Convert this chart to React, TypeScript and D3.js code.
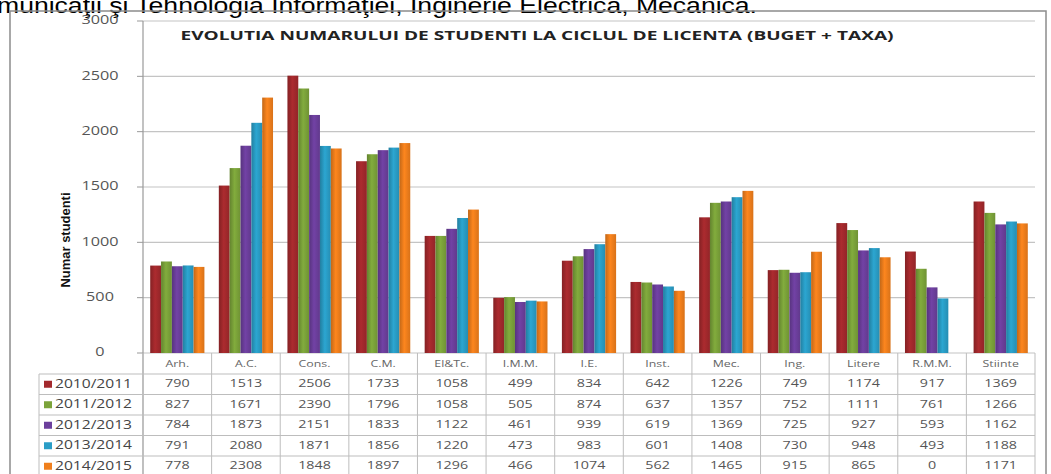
import React from "react";
import * as d3 from "d3";

const categories = ["Arh.", "A.C.", "Cons.", "C.M.", "El&Tc.", "I.M.M.", "I.E.", "Inst.", "Mec.", "Ing.", "Litere", "R.M.M.", "Stiinte"];
const seriesNames = ["2010/2011", "2011/2012", "2012/2013", "2013/2014", "2014/2015"];
const v2010 = [790, 1513, 2506, 1733, 1058, 499, 834, 642, 1226, 749, 1174, 917, 1369];
const v2011 = [827, 1671, 2390, 1796, 1058, 505, 874, 637, 1357, 752, 1111, 761, 1266];
const v2012 = [784, 1873, 2151, 1833, 1122, 461, 939, 619, 1369, 725, 927, 593, 1162];
const v2013 = [791, 2080, 1871, 1856, 1220, 473, 983, 601, 1408, 730, 948, 493, 1188];
const v2014 = [778, 2308, 1848, 1897, 1296, 466, 1074, 562, 1465, 915, 865, 0, 1171];
const yTicks = [0, 500, 1000, 1500, 2000, 2500, 3000];
const seriesValues = [v2010, v2011, v2012, v2013, v2014];
const colors = ["#a3292d", "#7ba33a", "#6c3f9c", "#2a9dc6", "#f07f1c"];
const title = "EVOLUTIA NUMARULUI DE STUDENTI LA CICLUL DE LICENTA (BUGET + TAXA)";
const yTitle = "Numar studenti";
const header = "municaţii şi Tehnologia Informaţiei, Inginerie Electrică, Mecanică.";

const W = 1051, H = 474;
const plotL = 143, plotR = 1035, plotT = 21, plotB = 353;
const rowH = 20.5, headRowB = 374;
const font = "'Open Sans', sans-serif";

function ST({ x, y, sx = 1.3, size = 11, children, fill = "#555", weight = "normal", anchor = "middle" }: any) {
  return (
    <g transform={`translate(${x},${y}) scale(${sx},1)`}>
      <text textAnchor={anchor} fontSize={size} fontFamily={font} fill={fill} fontWeight={weight} dominantBaseline="middle">{children}</text>
    </g>
  );
}

export default function App() {
  const x0 = d3.scaleBand<string>().domain(categories).range([plotL, plotR]).paddingInner(0.21).paddingOuter(0.105);
  const x1 = d3.scaleBand<string>().domain(seriesNames).range([0, x0.bandwidth()]).padding(0);
  const y = d3.scaleLinear().domain([0, 3000]).range([plotB, plotT]);
  const step = (plotR - plotL) / categories.length;
  const colEdges = d3.range(categories.length + 1).map((i) => plotL + i * step);

  return (
    <svg width={W} height={H} style={{ position: "absolute", left: 0, top: 0, background: "#fff" }}>
      <defs>
        {colors.map((c, i) => (
          <linearGradient key={i} id={`g${i}`} x1="0" x2="1" y1="0" y2="0">
            <stop offset="0%" stopColor={d3.color(c)!.darker(0.6).toString()} />
            <stop offset="45%" stopColor={d3.color(c)!.brighter(0.15).toString()} />
            <stop offset="100%" stopColor={d3.color(c)!.darker(0.3).toString()} />
          </linearGradient>
        ))}
      </defs>
      <rect x={0} y={0} width={W} height={H} fill="#fff" />
      <text x={-3} y={13} fontFamily="'Liberation Sans', Arial, sans-serif" fontSize={22} fill="#000" textLength={760} lengthAdjust="spacingAndGlyphs">{header}</text>
      <rect x={10} y={11} width={1036} height={480} fill="none" stroke="#8c8c8c" strokeWidth={1.5} />

      {/* gridlines */}
      {yTicks.map((t) => (
        <g key={t}>
          <line x1={plotL} x2={plotR} y1={y(t)} y2={y(t)} stroke="#c4c4c4" strokeWidth={1.2} />
          <line x1={plotL - 6} x2={plotL} y1={y(t)} y2={y(t)} stroke="#999" />
          <ST x={100} y={y(t)} size={12} sx={1.35} fill="#555">{t}</ST>
        </g>
      ))}

      <text x={537} y={37} textAnchor="middle" dominantBaseline="middle" fontFamily={font} fontWeight="bold" fontSize={12} fill="#222" textLength={713} lengthAdjust="spacingAndGlyphs">{title}</text>

      <text transform={`translate(67,240) rotate(-90)`} textAnchor="middle" dominantBaseline="middle" fontFamily="'Liberation Sans', Arial, sans-serif" fontWeight="bold" fontSize={13} fill="#111" textLength={95} lengthAdjust="spacingAndGlyphs">{yTitle}</text>

      {/* bars */}
      {categories.map((c, ci) => (
        <g key={c} transform={`translate(${x0(c)},0)`}>
          {seriesNames.map((s, si) => {
            const v = seriesValues[si][ci];
            return (
              <rect key={s} x={x1(s)} y={y(v)} width={x1.bandwidth()} height={plotB - y(v)} fill={`url(#g${si})`} />
            );
          })}
        </g>
      ))}

      {/* axis line */}
      <line x1={plotL} x2={plotL} y1={plotT} y2={H} stroke="#999" strokeWidth={1.2} />

      {/* table */}
      {d3.range(seriesNames.length + 1).map((r) => (
        <line key={r} x1={39} x2={plotR} y1={headRowB + r * rowH} y2={headRowB + r * rowH} stroke="#bdbdbd" />
      ))}
      <line x1={39} x2={39} y1={headRowB} y2={H} stroke="#bdbdbd" />
      {colEdges.map((e, i) => (
        <line key={i} x1={e} x2={e} y1={plotB} y2={H} stroke="#bdbdbd" />
      ))}
      {categories.map((c, ci) => (
        <ST key={c} x={plotL + (ci + 0.5) * step} y={364} size={9.5} sx={1.3} fill="#666">{c}</ST>
      ))}
      {seriesNames.map((s, si) => {
        const cy = headRowB + (si + 0.5) * rowH;
        return (
          <g key={s}>
            <rect x={44} y={cy - 3.5} width={8} height={7} fill={colors[si]} />
            <ST x={55} y={cy} size={13} sx={1.2} fill="#444" anchor="start">{s}</ST>
            {categories.map((c, ci) => (
              <ST key={c} x={plotL + (ci + 0.5) * step} y={cy} size={11} sx={1.3} fill="#555">{seriesValues[si][ci]}</ST>
            ))}
          </g>
        );
      })}
    </svg>
  );
}
